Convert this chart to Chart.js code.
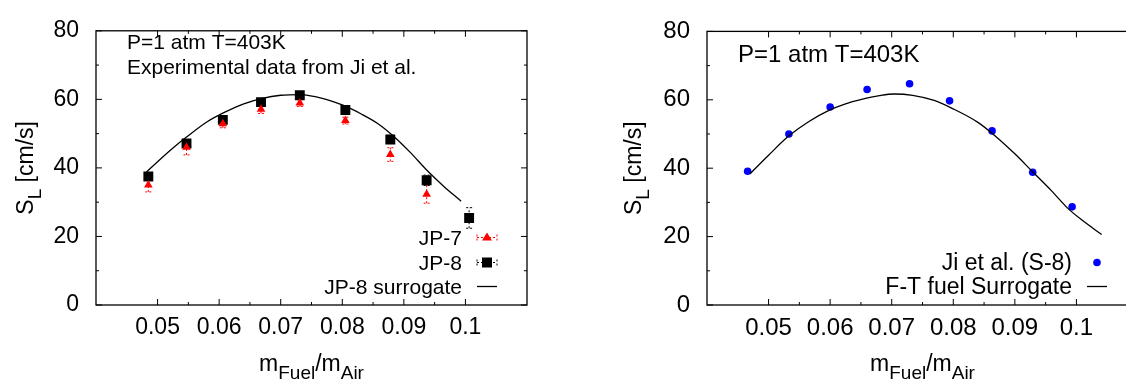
<!DOCTYPE html>
<html>
<head>
<meta charset="utf-8">
<script src="https://cdn.jsdelivr.net/npm/chart.js@4.4.1/dist/chart.umd.min.js"></script>
<style>
  html, body { margin: 0; padding: 0; background: #fff; overflow: hidden; width: 1126px; height: 379px; }
  #left { position: absolute; left: 0; top: 0; }
  #right { position: absolute; left: 563px; top: 0; }
</style>
</head>
<body>
<canvas id="left" width="563" height="379"></canvas>
<canvas id="right" width="600" height="379"></canvas>
<script>
// ---- data ----
const jpX   = [0.0485, 0.0547, 0.0606, 0.0668, 0.0731, 0.0805, 0.0878, 0.0937, 0.1006];
const jp8Y  = [37.5, 47.1, 54.0, 59.2, 61.2, 56.9, 48.3, 36.4, 25.4];
const jp8Err = [1.0, 1.2, 0.8, 0.8, 0.8, 0.8, 1.2, 1.5, 3.0];
const jp7Y  = [35.0, 46.0, 52.9, 57.1, 58.9, 53.8, 43.9, 32.3];
const jp7Err = [2.0, 2.2, 1.2, 1.2, 1.0, 1.0, 2.0, 2.6];

const surrX = [0.0482, 0.050, 0.0525, 0.0547, 0.058, 0.0611, 0.064, 0.067, 0.070, 0.0732,
               0.0758, 0.078, 0.0805, 0.083, 0.0858, 0.0881, 0.091, 0.0937, 0.0965, 0.0993];
const surrY = [38.8, 41.8, 45.8, 49.0, 53.4, 56.4, 58.7, 60.3, 61.2, 61.4,
               60.7, 59.6, 58.0, 55.8, 52.9, 49.6, 44.6, 39.4, 34.6, 30.3];

const s8X = [0.0466, 0.0533, 0.0600, 0.0660, 0.0729, 0.0794, 0.0863, 0.0929, 0.0993];
const s8Y = [39.1, 50.0, 57.9, 63.0, 64.7, 59.7, 50.9, 38.8, 28.7];

const ftX = [0.047, 0.050, 0.0534, 0.0565, 0.0598, 0.0625, 0.0651, 0.068, 0.0704, 0.0734,
             0.0769, 0.0798, 0.084, 0.0869, 0.090, 0.0928, 0.096, 0.0987, 0.101, 0.1041];
const ftY = [38.4, 43.8, 49.6, 53.6, 56.9, 58.8, 60.1, 61.2, 61.7, 61.3,
             59.8, 57.5, 53.4, 49.3, 44.2, 39.1, 33.3, 28.1, 24.7, 20.6];

const xTicks = [0.05, 0.06, 0.07, 0.08, 0.09, 0.1];
const xMinor = [0.055, 0.065, 0.075, 0.085, 0.095];
const yTicks = [0, 20, 40, 60, 80];
const yMinor = [10, 30, 50, 70];

const FONT = "'Liberation Sans', Arial, Helvetica, sans-serif";

function pts(xs, ys) {
  return ys.map((y, i) => ({ x: xs[i], y: y }));
}

// draw a string made of [text, isSub] pieces
function richText(ctx, parts, x, y, size, align) {
  const sub = Math.round(size * 0.82);
  let w = 0;
  parts.forEach(p => { ctx.font = (p[1] ? sub : size) + 'px ' + FONT; w += ctx.measureText(p[0]).width; });
  let cx = align === 'center' ? x - w / 2 : x;
  ctx.textAlign = 'left';
  ctx.textBaseline = 'alphabetic';
  parts.forEach(p => {
    ctx.font = (p[1] ? sub : size) + 'px ' + FONT;
    ctx.fillText(p[0], cx, p[1] ? y + size * 0.33 : y);
    cx += ctx.measureText(p[0]).width;
  });
}

function marker(ctx, kind, x, y) {
  ctx.save();
  if (kind === 'tri' || kind === 'sq') {
    ctx.strokeStyle = kind === 'tri' ? '#ff0000' : '#000';
    ctx.lineWidth = 1;
    ctx.setLineDash([2, 2]);
    ctx.beginPath();
    ctx.moveTo(x - 10, y); ctx.lineTo(x + 10, y);
    ctx.moveTo(x - 10, y - 3); ctx.lineTo(x - 10, y + 3);
    ctx.moveTo(x + 10, y - 3); ctx.lineTo(x + 10, y + 3);
    ctx.stroke();
    ctx.setLineDash([]);
  }
  if (kind === 'tri') {
    ctx.fillStyle = '#ff0000';
    ctx.beginPath();
    ctx.moveTo(x, y - 5); ctx.lineTo(x + 5, y + 3); ctx.lineTo(x - 5, y + 3);
    ctx.closePath(); ctx.fill();
  } else if (kind === 'sq') {
    ctx.fillStyle = '#000';
    ctx.fillRect(x - 5, y - 5, 10, 10);
  } else if (kind === 'dot') {
    ctx.fillStyle = '#0000ff';
    ctx.beginPath(); ctx.arc(x, y, 3.8, 0, Math.PI * 2); ctx.fill();
  } else if (kind === 'line') {
    ctx.strokeStyle = '#000'; ctx.lineWidth = 1.3;
    ctx.beginPath(); ctx.moveTo(x - 10, y); ctx.lineTo(x + 10, y); ctx.stroke();
  }
  ctx.restore();
}

// frame, inward ticks, error bars, notes, legend and axis titles
const decoPlugin = {
  id: 'deco',
  beforeDatasetsDraw(chart, args, opts) {
    const { ctx, scales: { x, y } } = chart;
    (opts.errors || []).forEach(e => {
      ctx.save();
      ctx.strokeStyle = e.color;
      ctx.lineWidth = 1;
      ctx.setLineDash([2, 2]);
      ctx.beginPath();
      e.ys.forEach((yv, i) => {
        const px = x.getPixelForValue(e.xs[i]);
        const y1 = y.getPixelForValue(yv - e.err[i]);
        const y2 = y.getPixelForValue(yv + e.err[i]);
        ctx.moveTo(px, y1); ctx.lineTo(px, y2);
        ctx.moveTo(px - 3, y1); ctx.lineTo(px + 3, y1);
        ctx.moveTo(px - 3, y2); ctx.lineTo(px + 3, y2);
      });
      ctx.stroke();
      ctx.restore();
    });
  },
  afterDraw(chart, args, opts) {
    const { ctx, chartArea: a, scales: { x, y } } = chart;
    ctx.save();
    ctx.strokeStyle = '#000';
    ctx.lineWidth = 1;
    ctx.beginPath();
    const tick = (vals, len) => {
      vals.forEach(v => {
        const p = x.getPixelForValue(v);
        ctx.moveTo(p, a.bottom); ctx.lineTo(p, a.bottom - len);
        ctx.moveTo(p, a.top); ctx.lineTo(p, a.top + len);
      });
    };
    tick(xTicks, 6); tick(xMinor, 3);
    const ytick = (vals, len) => {
      vals.forEach(v => {
        const p = y.getPixelForValue(v);
        ctx.moveTo(a.left, p); ctx.lineTo(a.left + len, p);
        ctx.moveTo(a.right, p); ctx.lineTo(a.right - len, p);
      });
    };
    ytick(yTicks, 6); ytick(yMinor, 3);
    ctx.stroke();
    ctx.lineWidth = 1.3;
    ctx.strokeRect(a.left, a.top, a.right - a.left, a.bottom - a.top);

    ctx.fillStyle = '#000';
    opts.notes.forEach(n => richText(ctx, [[n.text, false]], n.x, n.y, n.size, 'left'));

    opts.legend.forEach(l => {
      ctx.font = opts.legendSize + 'px ' + FONT;
      ctx.textAlign = 'right';
      ctx.textBaseline = 'alphabetic';
      ctx.fillStyle = '#000';
      ctx.fillText(l.text, opts.legendX, l.y);
      marker(ctx, l.kind, opts.legendX + 25, l.y - 7.5);
    });

    const cx = (a.left + a.right) / 2;
    richText(ctx, [['m', false], ['Fuel', true], ['/m', false], ['Air', true]], cx, 371, opts.titleSize, 'center');

    ctx.translate(opts.yTitleX, (a.top + a.bottom) / 2);
    ctx.rotate(-Math.PI / 2);
    richText(ctx, [['S', false], ['L', true], [' [cm/s]', false]], 0, 8, opts.titleSize, 'center');
    ctx.restore();
  }
};

function makeChart(id, datasets, axisW, padRight, tickSize, decoOpts) {
  return new Chart(document.getElementById(id), {
    type: 'scatter',
    data: { datasets: datasets },
    options: {
      responsive: false,
      animation: false,
      layout: { padding: { left: 0, right: padRight, top: 25, bottom: 0 } },
      plugins: { legend: { display: false }, tooltip: { enabled: false }, deco: decoOpts },
      scales: {
        x: {
          type: 'linear', min: 0.04, max: 0.11,
          afterBuildTicks: s => { s.ticks = xTicks.map(v => ({ value: v })); },
          afterFit: s => { s.height = 74; },
          grid: { display: false, drawTicks: false },
          border: { display: false },
          ticks: { color: '#000', padding: 9, maxRotation: 0, autoSkip: false,
                   font: { family: FONT, size: tickSize },
                   callback: v => String(Math.round(v * 100) / 100) }
        },
        y: {
          min: 0, max: 80,
          afterBuildTicks: s => { s.ticks = yTicks.map(v => ({ value: v })); },
          afterFit: s => { s.width = axisW; },
          grid: { display: false, drawTicks: false },
          border: { display: false },
          ticks: { color: '#000', padding: 17, font: { family: FONT, size: tickSize } }
        }
      }
    },
    plugins: [decoPlugin]
  });
}

makeChart('left', [
  { label: 'JP-8 surrogate', data: pts(surrX, surrY), showLine: true, pointRadius: 0,
    borderColor: '#000', borderWidth: 1.3, cubicInterpolationMode: 'monotone' },
  { label: 'JP-7', data: pts(jpX, jp7Y), pointStyle: 'triangle', pointRadius: 5,
    backgroundColor: '#ff0000', borderColor: '#ff0000', borderWidth: 0 },
  { label: 'JP-8', data: pts(jpX, jp8Y), pointStyle: 'rect', pointRadius: 7,
    backgroundColor: '#000', borderColor: '#000', borderWidth: 0 }
], 96, 36, 23, {
  errors: [
    { xs: jpX, ys: jp7Y, err: jp7Err, color: '#ff0000' },
    { xs: jpX, ys: jp8Y, err: jp8Err, color: '#000' }
  ],
  notes: [
    { text: 'P=1 atm T=403K', x: 127, y: 49, size: 21 },
    { text: 'Experimental data from Ji et al.', x: 127, y: 74, size: 21 }
  ],
  legendX: 462, legendSize: 21,
  legend: [
    { text: 'JP-7', y: 245, kind: 'tri' },
    { text: 'JP-8', y: 270, kind: 'sq' },
    { text: 'JP-8 surrogate', y: 294, kind: 'line' }
  ],
  titleSize: 23, yTitleX: 25
});

makeChart('right', [
  { label: 'F-T fuel Surrogate', data: pts(ftX, ftY), showLine: true, pointRadius: 0,
    borderColor: '#000', borderWidth: 1.3, cubicInterpolationMode: 'monotone' },
  { label: 'Ji et al. (S-8)', data: pts(s8X, s8Y), pointStyle: 'circle', pointRadius: 3.8,
    backgroundColor: '#0000ff', borderColor: '#0000ff', borderWidth: 0 }
], 144, 25, 24, {
  errors: [],
  notes: [
    { text: 'P=1 atm T=403K', x: 175, y: 62, size: 24 }
  ],
  legendX: 509, legendSize: 23,
  legend: [
    { text: 'Ji et al. (S-8)', y: 270, kind: 'dot' },
    { text: 'F-T fuel Surrogate', y: 294, kind: 'line' }
  ],
  titleSize: 23, yTitleX: 70
});
</script>
</body>
</html>
